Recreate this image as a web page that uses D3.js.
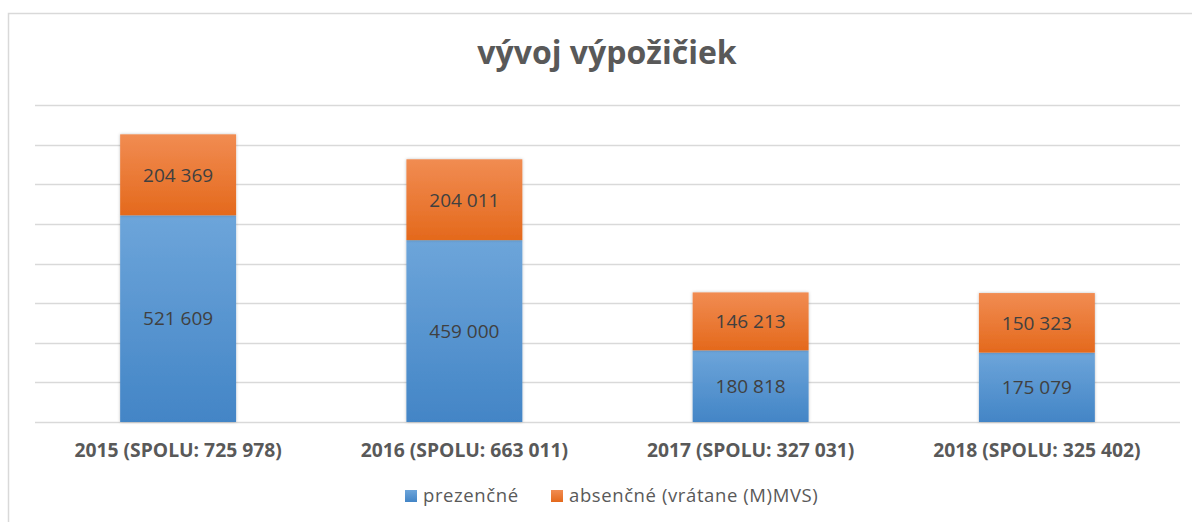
<!DOCTYPE html>
<html>
<head>
<meta charset="utf-8">
<script src="https://cdn.jsdelivr.net/npm/d3@7"></script>
<style>
  html, body { margin: 0; padding: 0; background: #fff; }
  svg { display: block; }
</style>
</head>
<body>
<div id="chart"></div>
<script>
var years = ["2015", "2016", "2017", "2018"];
var categoryLabels = ["2015 (SPOLU: 725 978)", "2016 (SPOLU: 663 011)", "2017 (SPOLU: 327 031)", "2018 (SPOLU: 325 402)"];
var prezencne = [521609, 459000, 180818, 175079];
var absencne = [204369, 204011, 146213, 150323];
var seriesNames = ["prezenčné", "absenčné (vrátane (M)MVS)"];
var yTicks = [0, 100000, 200000, 300000, 400000, 500000, 600000, 700000, 800000];

var width = 1192, height = 522;
var plot = { left: 35, right: 1180, top: 105, bottom: 422 };
var font = "'Open Sans', 'Noto Sans', sans-serif";
var textColor = "#595959";

var svg = d3.select("#chart").append("svg")
  .attr("width", width)
  .attr("height", height);

var defs = svg.append("defs");

function gradient(id, top, bottom) {
  var g = defs.append("linearGradient")
    .attr("id", id)
    .attr("x1", 0).attr("y1", 0)
    .attr("x2", 0).attr("y2", 1);
  g.append("stop").attr("offset", "0%").attr("stop-color", top);
  g.append("stop").attr("offset", "100%").attr("stop-color", bottom);
}
gradient("gBlue", "#6da5da", "#4385c6");
gradient("gOrange", "#f18c52", "#e4691c");

var shadow = defs.append("filter").attr("id", "shadow")
  .attr("x", "-10%").attr("y", "-10%").attr("width", "120%").attr("height", "120%");
shadow.append("feDropShadow")
  .attr("dx", 0).attr("dy", 0).attr("stdDeviation", 1.5)
  .attr("flood-color", "#000").attr("flood-opacity", 0.25);

// chart frame (cut off at right and bottom)
svg.append("rect")
  .attr("x", 8.5).attr("y", 13.5)
  .attr("width", 1300).attr("height", 700)
  .attr("fill", "none")
  .attr("stroke", "#d9d9d9")
  .attr("stroke-width", 1.5);

var x = d3.scaleBand()
  .domain(years)
  .range([plot.left, plot.right])
  .paddingInner(0.595)
  .paddingOuter(0.2975);

var y = d3.scaleLinear()
  .domain([0, 800000])
  .range([plot.bottom, plot.top]);

// gridlines
svg.append("g")
  .selectAll("line")
  .data(yTicks)
  .join("line")
  .attr("x1", plot.left).attr("x2", plot.right)
  .attr("y1", function(d) { return Math.round(y(d)) + 0.5; })
  .attr("y2", function(d) { return Math.round(y(d)) + 0.5; })
  .attr("stroke", "#d9d9d9")
  .attr("stroke-width", 1.3);

// stacked data
var rows = years.map(function(yr, i) {
  return { year: yr, prezencne: prezencne[i], absencne: absencne[i] };
});
var stack = d3.stack().keys(["prezencne", "absencne"])(rows);
var fills = ["url(#gBlue)", "url(#gOrange)"];

var layers = svg.append("g")
  .selectAll("g")
  .data(stack)
  .join("g")
  .attr("fill", function(d, i) { return fills[i]; });

layers.selectAll("rect")
  .data(function(d) { return d; })
  .join("rect")
  .attr("x", function(d) { return x(d.data.year); })
  .attr("y", function(d) { return y(d[1]); })
  .attr("width", x.bandwidth())
  .attr("height", function(d) { return y(d[0]) - y(d[1]); })
  .attr("filter", "url(#shadow)");

// value labels
var fmt = function(v) { return d3.format(",")(v).replace(/,/g, " "); };
svg.append("g")
  .selectAll("g")
  .data(stack)
  .join("g")
  .selectAll("text")
  .data(function(d) { return d; })
  .join("text")
  .attr("x", function(d) { return x(d.data.year) + x.bandwidth() / 2; })
  .attr("y", function(d) { return (y(d[0]) + y(d[1])) / 2; })
  .attr("dy", "0.36em")
  .attr("text-anchor", "middle")
  .attr("font-family", font)
  .attr("font-size", 19)
  .attr("fill", "#404040")
  .text(function(d) { return fmt(d[1] - d[0]); });

// category axis
var xAxis = svg.append("g")
  .attr("transform", "translate(0," + plot.bottom + ")")
  .call(d3.axisBottom(x).tickSize(0).tickPadding(0)
    .tickFormat(function(d, i) { return categoryLabels[i]; }));
xAxis.select(".domain").remove();
xAxis.selectAll("text")
  .attr("y", 35)
  .attr("dy", 0)
  .attr("font-family", font)
  .attr("font-size", 19.3)
  .attr("font-weight", "bold")
  .attr("fill", textColor);

// title
svg.append("text")
  .attr("x", 607)
  .attr("y", 64)
  .attr("text-anchor", "middle")
  .attr("font-family", font)
  .attr("font-size", 32)
  .attr("font-weight", "bold")
  .attr("fill", textColor)
  .text("vývoj výpožičiek");

// legend
var legendItems = [
  { name: seriesNames[0], fill: "url(#gBlue)", x: 405 },
  { name: seriesNames[1], fill: "url(#gOrange)", x: 551 }
];
var legend = svg.append("g")
  .selectAll("g")
  .data(legendItems)
  .join("g")
  .attr("transform", function(d) { return "translate(" + d.x + ",490)"; });
legend.append("rect")
  .attr("width", 12).attr("height", 12)
  .attr("fill", function(d) { return d.fill; });
legend.append("text")
  .attr("x", 18)
  .attr("y", 11.5)
  .attr("font-family", font)
  .attr("font-size", 18.5)
  .attr("letter-spacing", 0.6)
  .attr("fill", textColor)
  .text(function(d) { return d.name; });
</script>
</body>
</html>
